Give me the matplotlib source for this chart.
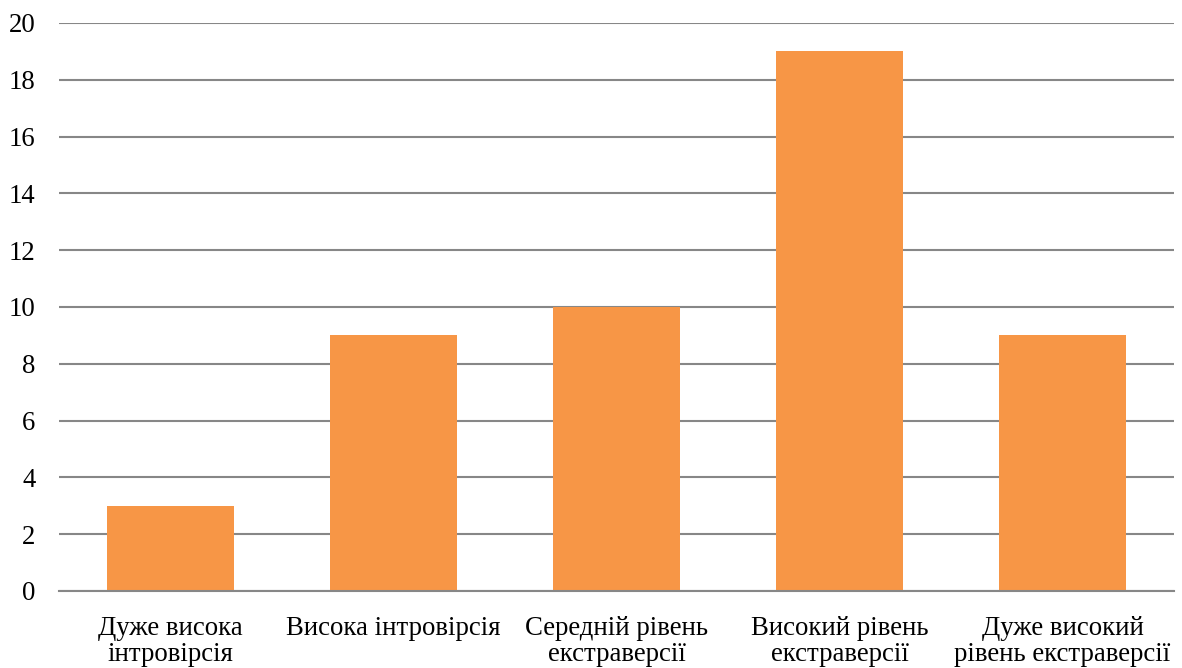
import matplotlib.pyplot as plt

categories = ["Дуже висока\nінтровірсія", "Висока інтровірсія",
              "Середній рівень\nекстраверсії", "Високий рівень\nекстраверсії",
              "Дуже високий\nрівень екстраверсії"]
values = [3, 9, 10, 19, 9]
yticks = [0, 2, 4, 6, 8, 10, 12, 14, 16, 18, 20]

plt.rcParams['font.family'] = ['Liberation Serif', 'DejaVu Serif']

fig = plt.figure(figsize=(11.82, 6.68), dpi=100)
ax = fig.add_axes([59 / 1182, 1 - 591 / 668, (1174 - 59) / 1182, (591 - 23) / 668])

ax.bar(range(len(values)), values, width=0.57, color='#F79646', zorder=2)
ax.set_xlim(-0.5, len(values) - 0.5)
ax.set_ylim(0, 20)
ax.set_yticks(yticks)
ax.yaxis.grid(True, color='#878787', linewidth=1.5, zorder=1)
ax.set_axisbelow(True)

ax.set_xticks(range(len(values)))
ax.set_xticklabels(categories, fontsize=19.3, linespacing=1.05)
ax.tick_params(axis='y', labelsize=19.3, length=0, pad=17)
ax.tick_params(axis='x', length=0, pad=18)

for side in ['top', 'right', 'left']:
    ax.spines[side].set_visible(False)
ax.spines['bottom'].set_color('#878787')
ax.spines['bottom'].set_linewidth(1.5)

fig.savefig('out.png', dpi=100)
